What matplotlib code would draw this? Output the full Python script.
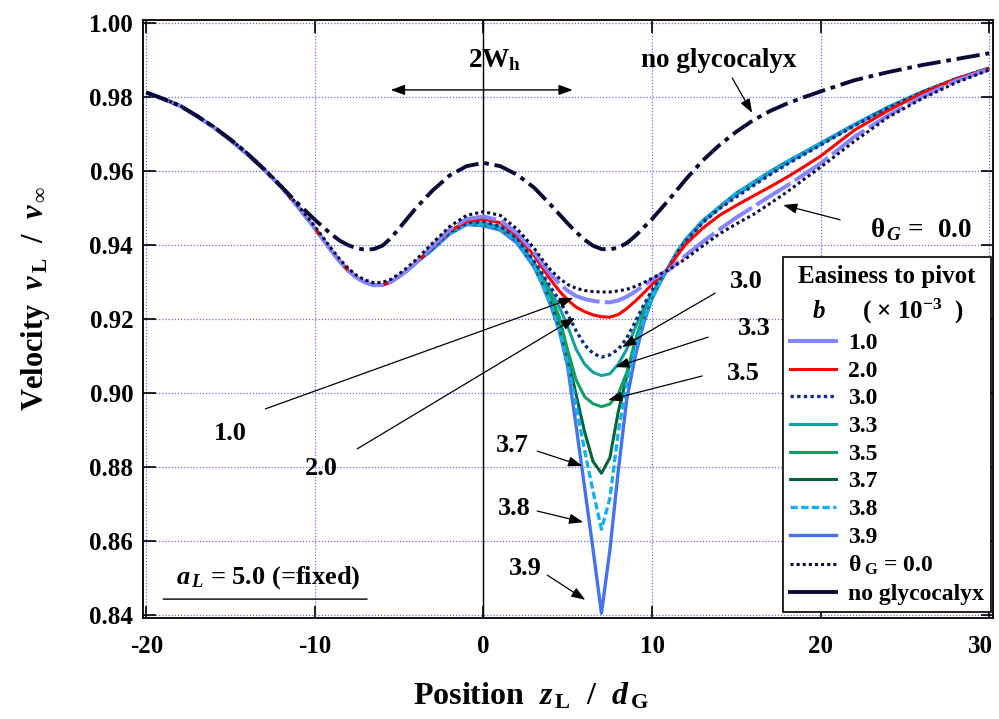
import matplotlib
matplotlib.use('Agg')
import matplotlib.pyplot as plt
import matplotlib.transforms as mtransforms
from matplotlib.lines import Line2D

plt.rcParams['font.family'] = 'Liberation Serif'
plt.rcParams['font.weight'] = 'bold'
plt.rcParams['axes.labelweight'] = 'bold'
plt.rcParams['axes.unicode_minus'] = False
plt.rcParams['mathtext.fontset'] = 'custom'
plt.rcParams['mathtext.rm'] = 'Liberation Serif:bold'
plt.rcParams['mathtext.it'] = 'Liberation Serif:italic:bold'
plt.rcParams['mathtext.bf'] = 'Liberation Serif:bold'
plt.rcParams['mathtext.sf'] = 'Liberation Serif'

# z_L / d_G where all the b-curves coincide (left dip)
X_LEFT = [-20, -19, -18, -17, -16, -15, -14, -13, -12, -11, -10, -9,
          -8.5, -8, -7.5, -7, -6.5, -6, -5.5, -5, -4.5, -4]
LEFT_B = [0.9812, 0.9795, 0.9776, 0.9748, 0.9718, 0.9683, 0.9645, 0.9603, 0.9557, 0.9503, 0.9445, 0.9383,
          0.9354, 0.9330, 0.9311, 0.9299, 0.9291, 0.9292, 0.9300, 0.9315, 0.9332, 0.9352]
LEFT_THETA = [0.9812, 0.9795, 0.9777, 0.9749, 0.9720, 0.9685, 0.9648, 0.9606, 0.9560, 0.9507, 0.9450, 0.9389,
              0.9360, 0.9336, 0.9317, 0.9305, 0.9298, 0.9299, 0.9307, 0.9322, 0.9340, 0.9360]

# z_L / d_G from the central hump onwards
X_RIGHT = [-3, -2, -1, 0, 1, 2, 3, 3.5, 4, 4.5, 5, 5.5, 6, 6.5, 7, 7.5, 8, 8.5, 9, 9.5, 10, 10.5,
           11, 11.5, 12, 13, 14, 15, 16, 17, 18, 19, 20, 22, 24, 26, 28, 30]

B10 = [0.9398, 0.9442, 0.9470, 0.9477, 0.9466, 0.9432, 0.9381, 0.9350, 0.9320, 0.9296, 0.9276, 0.9262,
       0.9254, 0.9249, 0.9246, 0.9245, 0.9250, 0.9260, 0.9274, 0.9290, 0.9306, 0.9320,
       0.9333, 0.9352, 0.9372, 0.9408, 0.9442, 0.9474, 0.9503, 0.9532, 0.9560, 0.9590, 0.9620,
       0.9692, 0.9750, 0.9800, 0.9843, 0.9875]
B20 = [0.9395, 0.9438, 0.9464, 0.9470, 0.9460, 0.9425, 0.9372, 0.9338, 0.9305, 0.9276, 0.9251, 0.9232,
       0.9220, 0.9211, 0.9206, 0.9205, 0.9212, 0.9228, 0.9248, 0.9270, 0.9293, 0.9316,
       0.9338, 0.9372, 0.9402, 0.9445, 0.9480, 0.9507, 0.9532, 0.9557, 0.9583, 0.9611, 0.9640,
       0.9710, 0.9763, 0.9810, 0.9848, 0.9877]
B30 = [0.9393, 0.9435, 0.9460, 0.9463, 0.9450, 0.9418, 0.9356, 0.9322, 0.9285, 0.9250, 0.9212, 0.9168,
       0.9130, 0.9107, 0.9097, 0.9103, 0.9118, 0.9148, 0.9192, 0.9237, 0.9278, 0.9312,
       0.9338, 0.9378, 0.9410, 0.9460, 0.9498, 0.9530, 0.9560, 0.9590, 0.9618, 0.9644, 0.9670,
       0.9722, 0.9770, 0.9812, 0.9848, 0.9877]
B33 = [0.9392, 0.9434, 0.9459, 0.9460, 0.9448, 0.9416, 0.9352, 0.9315, 0.9275, 0.9232, 0.9180, 0.9118,
       0.9078, 0.9056, 0.9047, 0.9052, 0.9078, 0.9118, 0.9176, 0.9228, 0.9270, 0.9308,
       0.9340, 0.9380, 0.9412, 0.9462, 0.9500, 0.9535, 0.9564, 0.9594, 0.9621, 0.9647, 0.9672,
       0.9724, 0.9771, 0.9813, 0.9848, 0.9877]
B35 = [0.9391, 0.9433, 0.9458, 0.9458, 0.9446, 0.9414, 0.9350, 0.9310, 0.9265, 0.9205, 0.9115, 0.9035,
       0.8990, 0.8971, 0.8963, 0.8970, 0.8998, 0.9055, 0.9140, 0.9212, 0.9263, 0.9305,
       0.9341, 0.9381, 0.9413, 0.9463, 0.9501, 0.9537, 0.9566, 0.9596, 0.9623, 0.9648, 0.9673,
       0.9724, 0.9771, 0.9813, 0.9848, 0.9877]
B37 = [0.9390, 0.9432, 0.9457, 0.9456, 0.9444, 0.9412, 0.9346, 0.9300, 0.9250, 0.9180, 0.9095, 0.8995,
       0.8895, 0.8815, 0.8783, 0.8825, 0.8950, 0.9045, 0.9138, 0.9208, 0.9261, 0.9303,
       0.9342, 0.9382, 0.9414, 0.9464, 0.9502, 0.9538, 0.9567, 0.9597, 0.9624, 0.9649, 0.9674,
       0.9725, 0.9772, 0.9813, 0.9848, 0.9878]
B38 = [0.9389, 0.9431, 0.9456, 0.9455, 0.9443, 0.9410, 0.9343, 0.9295, 0.9242, 0.9172, 0.9082, 0.8965,
       0.8845, 0.8735, 0.8632, 0.8715, 0.8895, 0.9025, 0.9118, 0.9196, 0.9257, 0.9302,
       0.9342, 0.9382, 0.9415, 0.9465, 0.9503, 0.9540, 0.9569, 0.9598, 0.9625, 0.9650, 0.9675,
       0.9725, 0.9772, 0.9813, 0.9848, 0.9878]
B39 = [0.9388, 0.9430, 0.9455, 0.9452, 0.9440, 0.9405, 0.9340, 0.9292, 0.9235, 0.9168, 0.9070, 0.8910,
       0.8745, 0.8578, 0.8405, 0.8575, 0.8790, 0.8982, 0.9098, 0.9188, 0.9255, 0.9300,
       0.9342, 0.9382, 0.9415, 0.9465, 0.9503, 0.9540, 0.9569, 0.9598, 0.9625, 0.9650, 0.9675,
       0.9725, 0.9772, 0.9813, 0.9848, 0.9878]
THETA0 = [0.9406, 0.9450, 0.9480, 0.9490, 0.9480, 0.9443, 0.9392, 0.9360, 0.9332, 0.9310, 0.9293, 0.9283,
          0.9277, 0.9274, 0.9273, 0.9273, 0.9276, 0.9280, 0.9288, 0.9298, 0.9310, 0.9322,
          0.9333, 0.9348, 0.9363, 0.9397, 0.9430, 0.9457, 0.9482, 0.9512, 0.9543, 0.9577, 0.9610,
          0.9680, 0.9745, 0.9795, 0.9838, 0.9873]

X_NG = [-20, -19, -18, -17, -16, -15, -14, -13, -12, -11, -10, -9, -8.5, -8, -7.5, -7, -6.5, -6, -5.5, -5,
        -4, -3, -2, -1, 0, 1, 2, 3, 4, 5, 5.5, 6, 6.5, 7, 7.5, 8, 8.5, 9, 10, 11, 12, 13, 14, 15, 16,
        17, 18, 19, 20, 22, 24, 26, 28, 30]
NO_GLYCO = [0.9812, 0.9795, 0.9776, 0.9749, 0.9719, 0.9685, 0.9647, 0.9604, 0.9558, 0.9512, 0.9468, 0.9428,
            0.9411, 0.9399, 0.9391, 0.9387, 0.9389, 0.9398, 0.9418, 0.9445, 0.9500, 0.9548, 0.9588, 0.9613,
            0.9622, 0.9613, 0.9590, 0.9555, 0.9508, 0.9458, 0.9435, 0.9414, 0.9398, 0.9389, 0.9388, 0.9393,
            0.9405, 0.9424, 0.9470, 0.9522, 0.9577, 0.9628, 0.9670, 0.9706, 0.9737, 0.9762, 0.9782, 0.9799,
            0.9815, 0.9845, 0.9867, 0.9886, 0.9902, 0.9918]

LABELS = ['1.0', '2.0', '3.0', '3.3', '3.5', '3.7', '3.8', '3.9']
X_TICKS = [-20, -10, 0, 10, 20, 30]
Y_TICKS = [0.84, 0.86, 0.88, 0.90, 0.92, 0.94, 0.96, 0.98, 1.00]

X_B = X_LEFT + X_RIGHT
B1_DASH = (0, (10, 1.3))
# (label, values, colour, width, style, z)
curves = [
    ('3.9', LEFT_B + B39, '#4470f2', 2.4, '-', 2),
    ('3.7', LEFT_B + B37, '#00663a', 2.2, '-', 3),
    ('3.5', LEFT_B + B35, '#10a060', 2.2, '-', 4),
    ('3.3', LEFT_B + B33, '#12a0a0', 2.2, '-', 5),
    ('3.8', LEFT_B + B38, '#12b0f2', 2.4, (0, (2.2, 1.0)), 6),
    ('3.0', LEFT_B + B30, '#0c2a90', 2.4, (0, (1, 1)), 7),
    ('2.0', LEFT_B + B20, '#ff0000', 2.2, '-', 8),
    ('1.0', LEFT_B + B10, '#8585ff', 2.9, B1_DASH, 9),
]
THETA_COLOR = '#0a0a40'
NG_COLOR = '#0a0a38'

fig = plt.figure(figsize=(9.99, 7.19), dpi=100)
ax = fig.add_axes([0.1431, 0.1405, 0.8504, 0.8317])

for label, ys, color, lw, ls, z in curves:
    ax.plot(X_B, ys, color=color, lw=lw, ls=ls, zorder=z, solid_capstyle='butt')
ax.plot(X_B, LEFT_THETA + THETA0, color=THETA_COLOR, lw=2.2, ls=(0, (1, 1)), zorder=10)
ax.plot(X_NG, NO_GLYCO, color=NG_COLOR, lw=2.8, ls=(0, (6, 1.5, 1.2, 1.5)), zorder=11)

ax.axvline(0, color='k', lw=1.0, zorder=1)

ax.set_xlim(-20.2, 30.2)
ax.set_ylim(0.8392, 1.0008)
ax.set_xticks(X_TICKS)
ax.set_xticklabels([str(t) for t in X_TICKS])
ax.set_yticks(Y_TICKS)
ax.set_yticklabels(['%.2f' % t for t in Y_TICKS])
ax.tick_params(direction='in', length=9, width=1.2, labelsize=18, top=True, right=True)
ax.tick_params(axis='x', pad=12)
ax.tick_params(axis='y', pad=7)
# the last x label sits against the figure edge; nudge it inside
last = ax.get_xticklabels()[-1]
last.set_transform(last.get_transform() + mtransforms.ScaledTranslation(-6 / 72, 0, fig.dpi_scale_trans))
for s in ax.spines.values():
    s.set_linewidth(1.3)
ax.grid(True, color='#6a6aff', ls=(0, (1, 1.5)), lw=0.9, zorder=0)
ax.set_axisbelow(True)

ax.set_xlabel(r'Position  $z_{\,\mathrm{L}}$  /  $d_{\,\mathrm{G}}$', fontsize=23, labelpad=17)
ax.set_ylabel(r'Velocity  $v_{\,\mathrm{L}}$  /  $v_{\,\infty}$', fontsize=22, labelpad=27)
ax.xaxis.label.set_x(0.457)
ax.yaxis.label.set_y(0.535)

# curve labels and pointers
arrow_kw = dict(arrowstyle='-|>,head_length=0.6,head_width=0.22', color='k', lw=0.9,
                mutation_scale=14, shrinkA=0, shrinkB=0)
label_pos = {
    '1.0': (-15.0, 0.8873), '2.0': (-9.6, 0.8778), '3.0': (15.6, 0.9284),
    '3.3': (16.05, 0.9157), '3.5': (15.4, 0.9035), '3.7': (1.7, 0.8841),
    '3.8': (1.8, 0.8670), '3.9': (2.5, 0.8508),
}
pointers = {
    '1.0': ((-12.94, 0.8957), (5.33, 0.9257)), '2.0': ((-7.49, 0.8849), (5.44, 0.9203)),
    '3.0': ((13.75, 0.9270), (8.23, 0.9124)), '3.3': ((13.33, 0.9151), (7.82, 0.9070)),
    '3.5': ((12.98, 0.9046), (7.40, 0.8981)), '3.7': ((3.19, 0.8843), (5.86, 0.8803)),
    '3.8': ((3.19, 0.8681), (5.92, 0.8651)), '3.9': ((3.78, 0.8508), (6.04, 0.8441)),
}
for lab in LABELS:
    ax.text(*label_pos[lab], lab, fontsize=19, ha='center', va='baseline', zorder=20)
    start, tip = pointers[lab]
    ax.annotate('', xy=tip, xytext=start, arrowprops=arrow_kw, zorder=20)

ax.text(13.93, 0.9882, 'no glycocalyx', fontsize=19.5, ha='center', va='baseline', zorder=20)
ax.annotate('', xy=(15.94, 0.9757), xytext=(14.76, 0.9851), arrowprops=arrow_kw, zorder=20)
ax.text(25.97, 0.9422, r'$\mathsf{\theta}_{\,G}$ =  0.0', fontsize=19.5, ha='center', va='baseline', zorder=20)
ax.annotate('', xy=(17.78, 0.9508), xytext=(21.16, 0.9468), arrowprops=arrow_kw, zorder=20)

ax.text(0.64, 0.9882, r'2W$_{\mathrm{h}}$', fontsize=19.5, ha='center', va='baseline', zorder=20)
ax.annotate('', xy=(5.3, 0.9819), xytext=(-5.5, 0.9819),
            arrowprops=dict(arrowstyle='<|-|>,head_length=0.6,head_width=0.22', color='k', lw=1.0,
                            mutation_scale=14, shrinkA=0, shrinkB=0), zorder=20)

ax.text(-12.79, 0.8486, r'$a_{\,L}$ = 5.0 (=fixed)', fontsize=19, ha='center', va='baseline', zorder=20)
ax.annotate('', xy=(-6.9, 0.8443), xytext=(-19.0, 0.8443),
            arrowprops=dict(arrowstyle='-', color='k', lw=1.0, shrinkA=0, shrinkB=0))

# legend
handles = [Line2D([], [], color=c, lw=lw, ls=('-' if ls == B1_DASH else ls))
           for _, _, c, lw, ls, _ in sorted(curves, key=lambda t: float(t[0]))]
handles.append(Line2D([], [], color=THETA_COLOR, lw=2.2, ls=(0, (1, 1))))
handles.append(Line2D([], [], color=NG_COLOR, lw=2.8, ls='-'))
names = LABELS + [r'$\mathsf{\theta}_{\;\mathrm{G}}$ = 0.0', 'no glycocalyx']
leg = ax.legend(handles, names, loc='lower right', bbox_to_anchor=(0.9985, 0.01),
                fontsize=17, title='Easiness to pivot\n' + r'$b$      ( × 10$^{-3}$  )',
                title_fontsize=18, frameon=True, fancybox=False, edgecolor='k',
                framealpha=1, borderaxespad=0, handlelength=1.95, handletextpad=0.5,
                labelspacing=0.26, borderpad=0.3)
leg.get_frame().set_linewidth(1.2)
leg.get_title().set_multialignment('center')
leg.get_title().set_linespacing(1.45)
leg.set_zorder(30)

fig.savefig('out.png', dpi=100)
